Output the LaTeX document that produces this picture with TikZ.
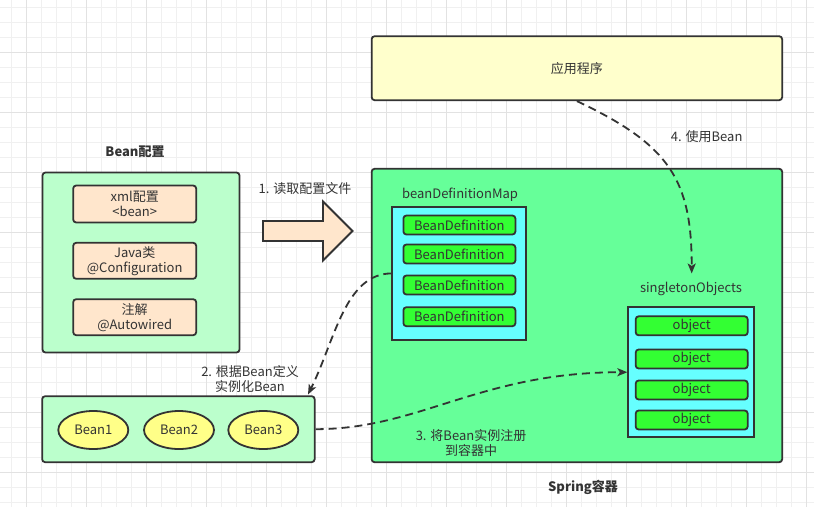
\documentclass[tikz,border=0pt]{standalone}
\usepackage{fontspec}
\setmainfont{Noto Sans CJK SC}
\usetikzlibrary{arrows.meta,shapes.geometric}
\definecolor{ln}{HTML}{333333}
\definecolor{cfgfill}{HTML}{BBFFCC}
\definecolor{peach}{HTML}{FFE6CC}
\definecolor{ioc}{HTML}{66FF99}
\definecolor{cyanbox}{HTML}{66FFFF}
\definecolor{bright}{HTML}{33FF33}
\definecolor{beanyel}{HTML}{FFFF88}
\definecolor{appfill}{HTML}{FFFFCC}
\definecolor{gminor}{HTML}{F0F0F0}
\definecolor{gmajor}{HTML}{E2E2E2}
\begin{document}
\begin{tikzpicture}[x=1pt,y=-1pt,font=\fontsize{13}{15}\selectfont,text=ln,
    box/.style={draw=ln,line width=1.8pt,rounded corners=3pt,inner sep=0pt,align=center},
    sharp/.style={draw=ln,line width=1.8pt,inner sep=0pt},
    item/.style={box,fill=bright,minimum width=112pt,minimum height=19pt},
    bean/.style={ellipse,draw=ln,line width=1.8pt,fill=beanyel,minimum width=70pt,minimum height=38pt,inner sep=0pt},
    lbl/.style={align=center,inner sep=1pt},
    flow/.style={draw=ln,line width=1.8pt,dash pattern=on 8pt off 5pt,-{Stealth[length=10pt,width=8pt,inset=2.5pt]}}]
\useasboundingbox (0,0) rectangle (814,507);
\fill[white] (0,0) rectangle (814,507);
\foreach \gx in {0,...,53} \draw[gminor,line width=1pt] ({11.7+15*\gx},0) -- ({11.7+15*\gx},507);
\foreach \gy in {0,...,33} \draw[gminor,line width=1pt] (0,{7.7+15*\gy}) -- (814,{7.7+15*\gy});
\foreach \gx in {0,...,13} \draw[gmajor,line width=1pt] ({26.7+60*\gx},0) -- ({26.7+60*\gx},507);
\foreach \gy in {0,...,7} \draw[gmajor,line width=1pt] (0,{52.7+60*\gy}) -- (814,{52.7+60*\gy});

% bean configuration
\node (cfgt) at (135,152) [lbl,font=\fontsize{13}{15}\selectfont\bfseries] {Bean配置};
\node (cfg) at (141,262.5) [box,fill=cfgfill,minimum width=197pt,minimum height=180pt] {};
\node (xml) at (134.7,204) [box,fill=peach,minimum width=123pt,minimum height=37pt] {xml配置\\<bean>};
\node (jc) at (134.7,260.8) [box,fill=peach,minimum width=123pt,minimum height=36pt] {Java类\\@Configuration};
\node (anno) at (134.7,317.2) [box,fill=peach,minimum width=123pt,minimum height=36pt] {注解\\@Autowired};

% read step
\node (l1) at (305,189) [lbl] {1. 读取配置文件};
\draw[ln,fill=peach,line width=1.8pt,line join=miter] (263,221) -- (323,221) -- (323,201.5) -- (352.5,231) -- (323,260.5) -- (323,241) -- (263,241) -- cycle;

% application
\node (app) at (576.9,68.2) [box,fill=appfill,minimum width=410.5pt,minimum height=64pt] {应用程序};

% spring container
\node (ioc) at (576.9,315.5) [box,fill=ioc,minimum width=410.5pt,minimum height=293.5pt] {};
\node (iocl) at (583,487.7) [lbl,font=\fontsize{13}{15}\selectfont\bfseries] {Spring容器};
\node (mapl) at (460,194.3) [lbl] {beanDefinitionMap};
\node (map) at (459.2,273.4) [sharp,fill=cyanbox,minimum width=134pt,minimum height=132.5pt] {};
\node (d1) at (459.4,225) [item] {BeanDefinition};
\node (d2) at (459.4,254) [item] {BeanDefinition};
\node (d3) at (459.4,285) [item] {BeanDefinition};
\node (d4) at (459.4,316.7) [item] {BeanDefinition};
\node (objl) at (691,289.3) [lbl] {singletonObjects};
\node (objs) at (691,372.2) [sharp,fill=cyanbox,minimum width=125.5pt,minimum height=130pt] {};
\node (o1) at (691.7,325.8) [item] {object};
\node (o2) at (691.7,359) [item] {object};
\node (o3) at (691.7,390) [item] {object};
\node (o4) at (691.7,420) [item] {object};

% beans
\node (beans) at (178.4,429.2) [box,fill=cfgfill,minimum width=272.5pt,minimum height=66pt] {};
\node (b1) at (93.3,430) [bean] {Bean1};
\node (b2) at (179,430) [bean] {Bean2};
\node (b3) at (263.3,430) [bean] {Bean3};

\node (l2) at (250,379) [lbl] {2. 根据Bean定义\\实例化Bean};
\node (l3) at (471,443.5) [lbl] {3. 将Bean实例注册\\到容器中};
\node (l4) at (706.7,136.7) [lbl] {4. 使用Bean};

\coordinate (tip2) at (308,394.5);
\coordinate (tip4) at (691.7,273.5);
\draw[flow] (map.west) .. controls (345,274) and (335,340) .. (tip2);
\draw[flow] (beans.east) .. controls (420,429) and (480,372.2) .. (objs.west);
\draw[flow] (app.south) .. controls (670,145) and (691.7,180) .. (tip4);

\end{tikzpicture}
\end{document}
